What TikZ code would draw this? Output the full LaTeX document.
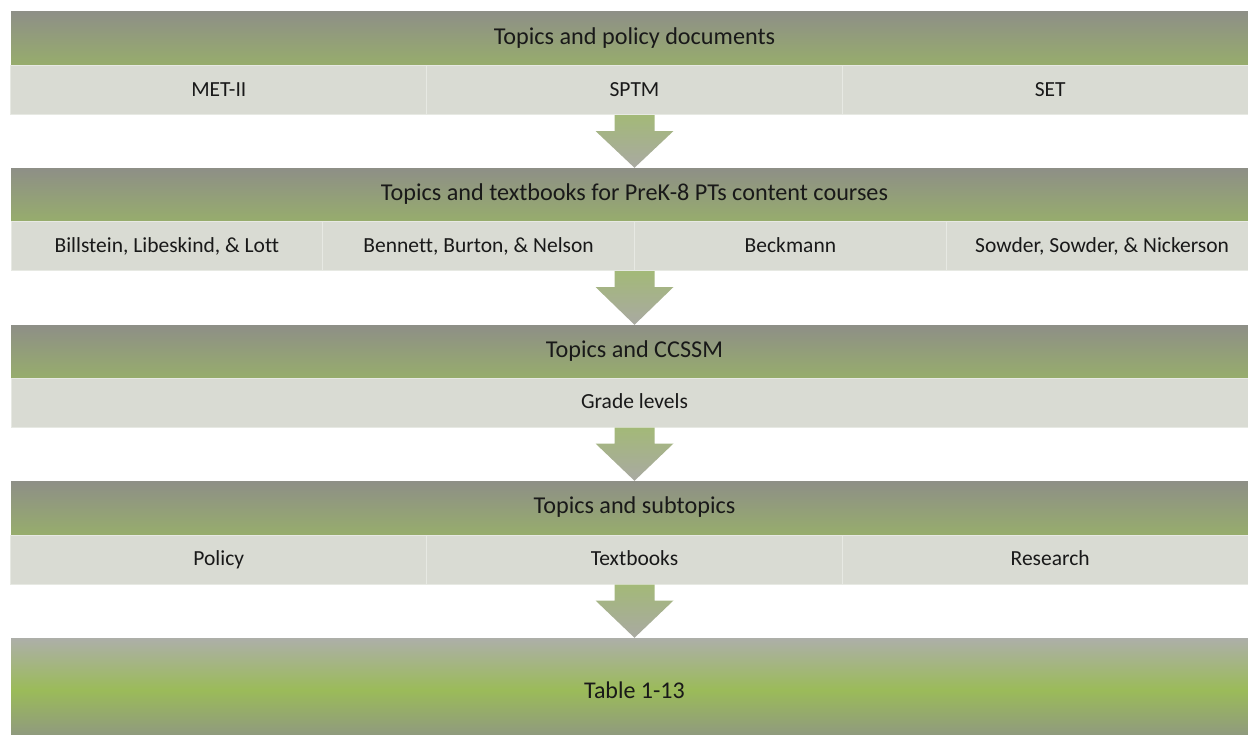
\documentclass[tikz,border=0pt]{standalone}
\usepackage{fontspec}
\setmainfont{Carlito}[Ligatures=NoCommon]
\usetikzlibrary{calc}

\definecolor{hdrtop}{RGB}{142,143,135}
\definecolor{hdrbot}{RGB}{151,173,108}
\definecolor{cellfill}{RGB}{217,219,211}
\definecolor{cellline}{RGB}{231,233,227}
\definecolor{endtop}{RGB}{173,175,169}
\definecolor{endmid}{RGB}{155,187,89}
\definecolor{endbot}{RGB}{142,149,132}
\definecolor{arrtop}{RGB}{163,185,120}
\definecolor{arrbot}{RGB}{169,169,162}
\definecolor{txt}{RGB}{25,25,25}

\tikzset{
  hdr/.style={rectangle, inner sep=0, minimum width=1247pt, minimum height=#1,
    top color=hdrtop, bottom color=hdrbot, text=txt, font=\fontsize{24.2}{28}\selectfont,
    text height=1.15em, text depth=0em},
  hdr/.default=54pt,
  cell/.style={rectangle, inner sep=0, minimum height=49pt, minimum width=#1,
    fill=cellfill, draw=cellline, line width=1pt, text=txt, font=\fontsize{21.5}{25}\selectfont,
    text height=1.2em, text depth=0em},
  endbar/.style={rectangle, inner sep=0, minimum width=1247pt, minimum height=104pt,
    top color=endtop, bottom color=endbot, middle color=endmid, text=txt,
    font=\fontsize{24}{28}\selectfont},
  arrowfill/.style={top color=arrtop, bottom color=arrbot}
}

\newcommand{\flowarrow}[2]{%
  \shade[arrowfill] let \p1=(#1), \p2=(#2) in
    (\x1-20,\y1) -- (\x1+20,\y1) -- (\x1+20,\y1-16) -- (\x1+39,\y1-16)
    -- (\x1,\y2) -- (\x1-39,\y1-16) -- (\x1-20,\y1-16) -- cycle;}

\begin{document}
\begin{tikzpicture}[x=1pt,y=-1pt]
\useasboundingbox (0,0) rectangle (1248,734);
\clip (0,0) rectangle (1248,734);

% policy documents
\node[hdr=55pt] (policy) at (634.5,38.5) {Topics and policy documents};
\node[cell=415.67pt] (met) at (218.8,90) {MET-II};
\node[cell=415.67pt] (sptm) at (634.5,90) {SPTM};
\node[cell=415.67pt] (set) at (1050.2,90) {SET};

% textbooks
\node[hdr] (books) at (634.5,195) {Topics and textbooks for PreK-8 PTs content courses};
\node[cell=311.75pt] (billstein) at (166.9,246) {Billstein, Libeskind, \& Lott};
\node[cell=311.75pt] (bennett) at (478.6,246) {Bennett, Burton, \& Nelson};
\node[cell=311.75pt] (beckmann) at (790.4,246) {Beckmann};
\node[cell=311.75pt] (sowder) at (1102.1,246) {Sowder, Sowder, \& Nickerson};

% CCSSM
\node[hdr=53pt] (ccssm) at (634.5,351.5) {Topics and CCSSM};
\node[cell=1247pt] (grades) at (634.5,402.5) {Grade levels};

% subtopics
\node[hdr] (subtopics) at (634.5,508) {Topics and subtopics};
\node[cell=415.67pt] (pol) at (218.8,559.5) {Policy};
\node[cell=415.67pt] (text) at (634.5,559.5) {Textbooks};
\node[cell=415.67pt] (res) at (1050.2,559.5) {Research};

\node[endbar] (tables) at (634.5,690) {Table 1-13};

\flowarrow{sptm.south}{books.north}
\flowarrow{policy.center |- bennett.south}{ccssm.north}
\flowarrow{grades.south}{subtopics.north}
\flowarrow{text.south}{tables.north}
\end{tikzpicture}
\end{document}
